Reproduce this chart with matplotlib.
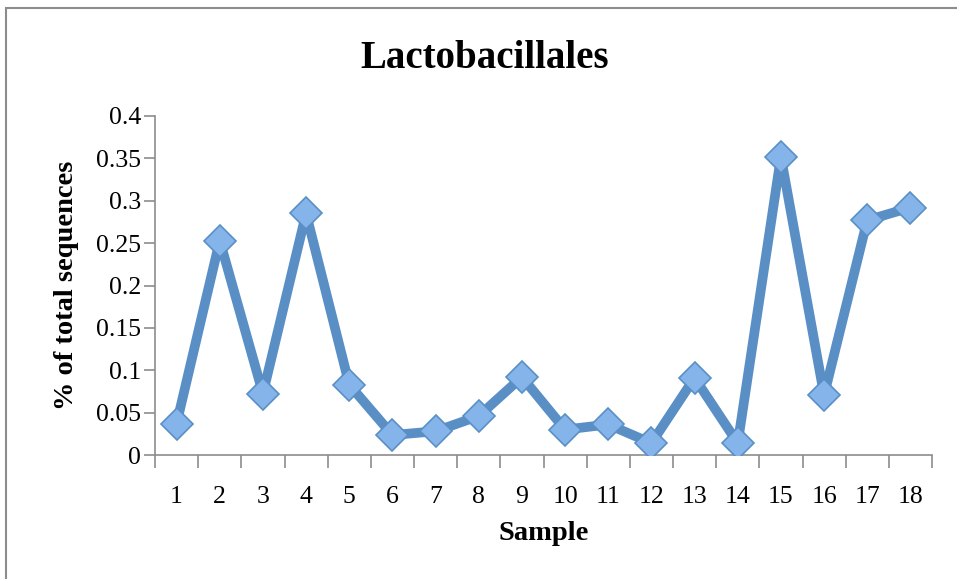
import matplotlib
matplotlib.use("Agg")
import matplotlib.pyplot as plt
from matplotlib.patches import Rectangle
import numpy as np

samples = [str(i) for i in range(1, 19)]
values = [0.037, 0.253, 0.0725, 0.285, 0.083, 0.0236, 0.028, 0.046, 0.092,
          0.030, 0.036, 0.014, 0.091, 0.014, 0.352, 0.0706, 0.277, 0.292]
yticks = [0, 0.05, 0.1, 0.15, 0.2, 0.25, 0.3, 0.35, 0.4]
ytick_labels = ["0", "0.05", "0.1", "0.15", "0.2", "0.25", "0.3", "0.35", "0.4"]

W, H = 957, 579
fig = plt.figure(figsize=(W / 100, H / 100), dpi=100)
fig.patch.set_facecolor("white")

# outer chart frame
fig.add_artist(Rectangle((6 / W, -0.05), 1.2, (H - 7.5) / H + 0.05,
                         transform=fig.transFigure, fill=False,
                         edgecolor="#8c8c8c", linewidth=1.5))

ax = fig.add_axes([155 / W, (H - 455) / H, (932 - 155) / W, (455 - 116) / H])
x = np.arange(len(samples))
ax.plot(x, values, color="#5a8fc6", linewidth=7, solid_joinstyle="round",
        marker="D", markersize=16, markerfacecolor="#84b4ea",
        markeredgecolor="#5a8fc6", markeredgewidth=1.2, zorder=3)

ax.set_xlim(-0.5, len(samples) - 0.5)
ax.set_ylim(0, 0.4)
ax.set_yticks(yticks)
ax.set_yticklabels(ytick_labels)
ax.set_xticks(x)
ax.set_xticklabels(samples)
ax.set_xticks(np.arange(-0.5, len(samples), 1.0), minor=True)

serif = ["Liberation Serif", "DejaVu Serif"]
for lab in ax.get_xticklabels() + ax.get_yticklabels():
    lab.set_fontfamily(serif)
    lab.set_fontsize(18.5)

ax.tick_params(axis="x", which="major", length=0, pad=22)
ax.tick_params(axis="x", which="minor", length=9, color="#8c8c8c", width=1.2)
ax.tick_params(axis="y", which="major", length=8, color="#8c8c8c", width=1.2, pad=2)

for s in ["top", "right"]:
    ax.spines[s].set_visible(False)
for s in ["left", "bottom"]:
    ax.spines[s].set_color("#8c8c8c")
    ax.spines[s].set_linewidth(1.2)

fig.text(485 / W, (H - 59) / H, "Lactobacillales", fontfamily=serif,
         fontsize=28, fontweight="bold", ha="center", va="center")
ax.set_xlabel("Sample", fontfamily=serif, fontsize=20.5, fontweight="bold",
              labelpad=10)
ax.set_ylabel("% of total sequences", fontfamily=serif, fontsize=20.5,
              fontweight="bold", labelpad=12)

fig.savefig("out.png", dpi=100)
